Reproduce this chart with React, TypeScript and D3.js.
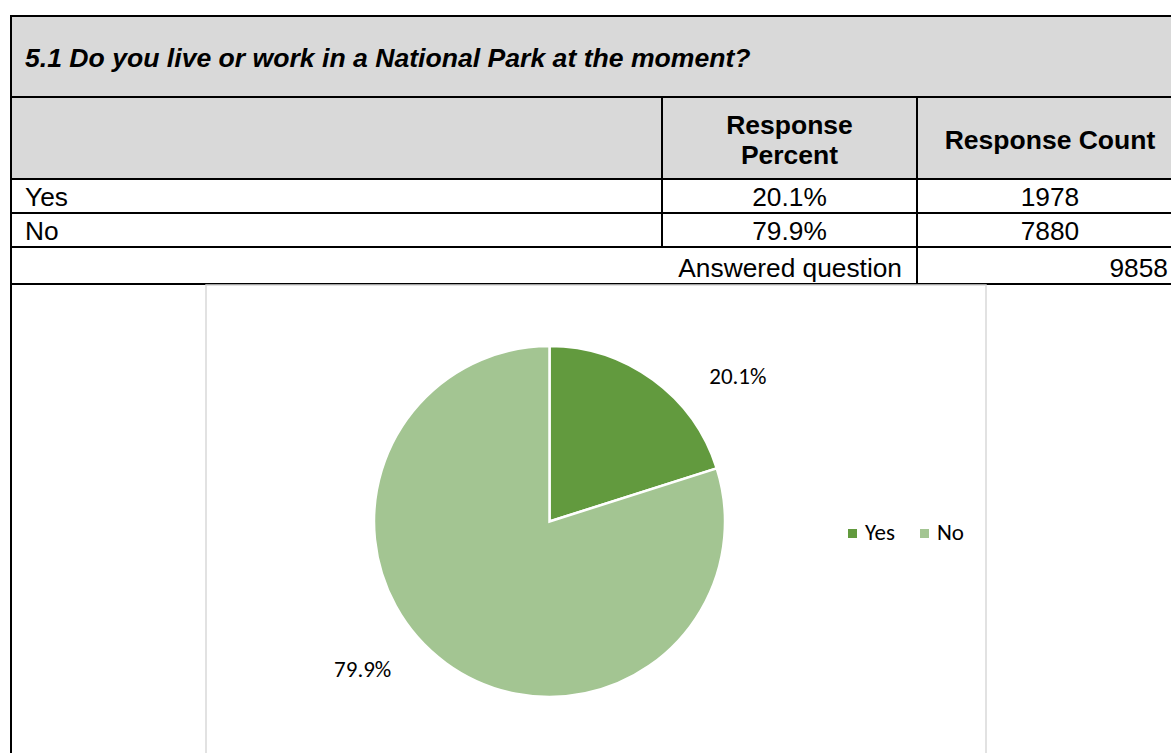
import React from "react";
import * as d3 from "d3";

const title = "5.1 Do you live or work in a National Park at the moment?";
const categories = ["Yes", "No"];
const percents = [20.1, 79.9];
const counts = [1978, 7880];
const answered = 9858;
const colors = ["#629a3e", "#a3c592"];
// where along each slice (fraction of its sweep) Excel placed the label
const labelAt = [0.723, 0.554];

const W = 1171;
const H = 753;
const tableFont = "Arial, 'Liberation Sans', sans-serif";
const chartFont = "Carlito, 'Open Sans', sans-serif";

const App = () => {
  const left = 11;
  const right = 1183;
  const col1 = 662;
  const col2 = 917;
  const rows = [16, 97, 179, 213, 247, 284];

  const cx = 549.5;
  const cy = 521.5;
  const r = 175.5;

  const pie = d3
    .pie<number>()
    .sort(null)
    .value((d) => d);
  const arcs = pie(percents);
  const arc = d3.arc<d3.PieArcDatum<number>>().innerRadius(0).outerRadius(r);
  const labelR = 238;

  return (
    <svg
      width={W}
      height={H}
      style={{ position: "absolute", left: 0, top: 0, background: "#fff" }}
    >
      {/* table */}
      <rect x={left} y={rows[0]} width={right - left} height={rows[2] - rows[0]} fill="#d9d9d9" />
      <g stroke="#000" strokeWidth={2}>
        <line x1={left} x2={right} y1={rows[0]} y2={rows[0]} />
        <line x1={left} x2={right} y1={rows[1]} y2={rows[1]} />
        <line x1={left} x2={right} y1={rows[2]} y2={rows[2]} />
        <line x1={left} x2={right} y1={rows[3]} y2={rows[3]} />
        <line x1={left} x2={right} y1={rows[4]} y2={rows[4]} />
        <line x1={left} x2={right} y1={rows[5]} y2={rows[5]} />
        <line x1={left} x2={left} y1={rows[0] - 1} y2={H} />
        <line x1={col1} x2={col1} y1={rows[1]} y2={rows[4]} />
        <line x1={col2} x2={col2} y1={rows[1]} y2={rows[5]} />
      </g>
      <text
        x={25}
        y={67}
        fontFamily={tableFont}
        fontSize={26.6}
        fontWeight="bold"
        fontStyle="italic"
      >
        {title}
      </text>
      <g fontFamily={tableFont} fontSize={26.5} fontWeight="bold" textAnchor="middle">
        <text x={(col1 + col2) / 2} y={134}>Response</text>
        <text x={(col1 + col2) / 2} y={164}>Percent</text>
        <text x={(col2 + right) / 2} y={149}>Response Count</text>
      </g>
      <g fontFamily={tableFont} fontSize={26.3}>
        {categories.map((c, i) => (
          <g key={c}>
            <text x={25} y={rows[2 + i] + 27}>{c}</text>
            <text x={(col1 + col2) / 2} y={rows[2 + i] + 27} textAnchor="middle">
              {percents[i].toFixed(1)}%
            </text>
            <text x={(col2 + right) / 2} y={rows[2 + i] + 27} textAnchor="middle">
              {counts[i]}
            </text>
          </g>
        ))}
        <text x={902} y={rows[4] + 30} textAnchor="end">Answered question</text>
        <text x={1168} y={rows[4] + 30} textAnchor="end">{answered}</text>
      </g>

      {/* chart area */}
      <rect
        x={206}
        y={rows[5] + 1}
        width={780}
        height={H}
        fill="#fff"
        stroke="#d9d9d9"
        strokeWidth={1.5}
      />
      <g transform={`translate(${cx},${cy})`}>
        {arcs.map((a, i) => (
          <path key={i} d={arc(a) || ""} fill={colors[i]} stroke="#fff" strokeWidth={2.5} strokeLinejoin="miter" />
        ))}
        {arcs.map((a, i) => {
          const ang = a.startAngle + (a.endAngle - a.startAngle) * labelAt[i];
          return (
            <text
              key={"l" + i}
              x={Math.sin(ang) * labelR}
              y={-Math.cos(ang) * labelR}
              dy="0.35em"
              textAnchor="middle"
              fontFamily={chartFont}
              fontSize={23}
              fill="#000"
            >
              {a.data.toFixed(1)}%
            </text>
          );
        })}
      </g>
      <g fontFamily={chartFont} fontSize={23} fill="#000">
        {categories.map((c, i) => (
          <g key={c} transform={`translate(${848 + i * 72},529)`}>
            <rect width={9} height={9} fill={colors[i]} />
            <text x={17} y={11}>{c}</text>
          </g>
        ))}
      </g>
    </svg>
  );
};

export default App;
